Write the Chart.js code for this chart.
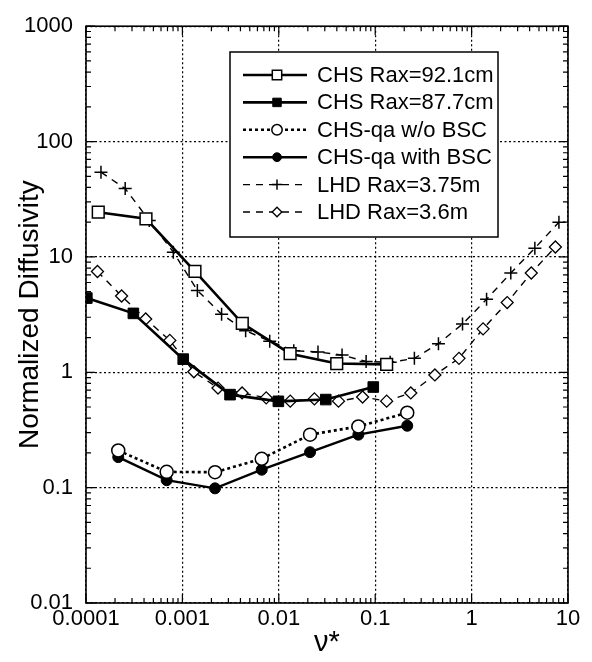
<!DOCTYPE html>
<html lang="en">
<head>
    <meta charset="UTF-8">
    <title>Normalized Diffusivity vs collisionality</title>
    <script src="https://cdn.jsdelivr.net/npm/chart.js"></script>
    <style>
        body {
            margin: 0;
            padding: 0;
            background-color: #ffffff;
        }
        #chartBox {
            width: 592px;
            height: 662px;
        }
    </style>
</head>
<body>
    <div id="chartBox">
        <canvas id="diffChart" width="592" height="662"></canvas>
    </div>
    <script>
        // Tick labels (decades only)
        const xTicks = [0.0001, 0.001, 0.01, 0.1, 1, 10];
        const xTickLabels = ['0.0001', '0.001', '0.01', '0.1', '1', '10'];
        const yTicks = [0.01, 0.1, 1, 10, 100, 1000];
        const yTickLabels = ['0.01', '0.1', '1', '10', '100', '1000'];

        // CHS Rax=92.1cm (open squares)
        const chs921X = [1.34e-4, 4.19e-4, 1.35e-3, 4.18e-3, 0.0131, 0.0399, 0.1315];
        const chs921Y = [24.4, 21.4, 7.48, 2.66, 1.45, 1.19, 1.17];

        // CHS Rax=87.7cm (filled squares)
        const chs877X = [1.02e-4, 3.1e-4, 1.02e-3, 3.12e-3, 0.0099, 0.0307, 0.0955];
        const chs877Y = [4.4, 3.24, 1.30, 0.64, 0.56, 0.58, 0.745];

        // CHS-qa w/o BSC (open circles) and with BSC (filled circles)
        const qaX = [2.16e-4, 6.87e-4, 2.18e-3, 6.65e-3, 0.0211, 0.0669, 0.215];
        const qaNoBscY = [0.21, 0.137, 0.136, 0.178, 0.288, 0.339, 0.446];
        const qaBscY = [0.184, 0.116, 0.0986, 0.143, 0.203, 0.288, 0.344];

        // LHD Rax=3.75m (plus)
        const lhd375X = [1.43e-4, 2.55e-4, 4.53e-4, 8.05e-4, 1.43e-3, 2.55e-3, 4.53e-3, 8.05e-3,
                         0.0143, 0.0255, 0.0453, 0.0805, 0.143, 0.255, 0.453, 0.805, 1.43, 2.55, 4.53, 8.05];
        const lhd375Y = [54.3, 39.1, 20.7, 11.0, 5.12, 3.19, 2.29, 1.86, 1.54, 1.50,
                         1.41, 1.24, 1.22, 1.32, 1.77, 2.62, 4.29, 7.26, 11.9, 20.0];

        // LHD Rax=3.6m (diamonds)
        const lhd36X = [1.315e-4, 2.34e-4, 4.16e-4, 7.40e-4, 1.315e-3, 2.34e-3, 4.16e-3, 7.40e-3,
                        0.01315, 0.0234, 0.0416, 0.0740, 0.1315, 0.234, 0.416, 0.740, 1.315, 2.34, 4.16, 7.40];
        const lhd36Y = [7.48, 4.58, 2.90, 1.89, 1.01, 0.73, 0.662, 0.60, 0.562, 0.588,
                        0.562, 0.611, 0.562, 0.662, 0.948, 1.32, 2.38, 4.02, 7.26, 12.2];

        const fontFamily = '"Liberation Sans", Arial, Helvetica, sans-serif';

        function pairs(xs, ys) {
            return xs.map((x, i) => ({ x: x, y: ys[i] }));
        }

        const datasets = [
            {
                label: 'CHS Rax=92.1cm',
                data: pairs(chs921X, chs921Y),
                borderColor: '#000', borderWidth: 2.6,
                pointStyle: 'rect', pointRadius: 8.3,
                pointBackgroundColor: '#fff', pointBorderColor: '#000', pointBorderWidth: 1.5
            },
            {
                label: 'CHS Rax=87.7cm',
                data: pairs(chs877X, chs877Y),
                borderColor: '#000', borderWidth: 2.6,
                pointStyle: 'rect', pointRadius: 7.5,
                pointBackgroundColor: '#000', pointBorderColor: '#000', pointBorderWidth: 1
            },
            {
                label: 'CHS-qa w/o BSC',
                data: pairs(qaX, qaNoBscY),
                borderColor: '#000', borderWidth: 2.6, borderDash: [3, 3],
                pointStyle: 'circle', pointRadius: 6.5,
                pointBackgroundColor: '#fff', pointBorderColor: '#000', pointBorderWidth: 1.5
            },
            {
                label: 'CHS-qa with BSC',
                data: pairs(qaX, qaBscY),
                borderColor: '#000', borderWidth: 2.4,
                pointStyle: 'circle', pointRadius: 5.5,
                pointBackgroundColor: '#000', pointBorderColor: '#000', pointBorderWidth: 1
            },
            {
                label: 'LHD Rax=3.75m',
                data: pairs(lhd375X, lhd375Y),
                borderColor: '#000', borderWidth: 1.4, borderDash: [7, 6],
                pointStyle: 'cross', pointRadius: 6.5,
                pointBackgroundColor: '#fff', pointBorderColor: '#000', pointBorderWidth: 1.5
            },
            {
                label: 'LHD Rax=3.6m',
                data: pairs(lhd36X, lhd36Y),
                borderColor: '#000', borderWidth: 1.4, borderDash: [7, 6],
                pointStyle: 'rectRot', pointRadius: 6,
                pointBackgroundColor: '#fff', pointBorderColor: '#000', pointBorderWidth: 1.3
            }
        ];

        // frame, inward ticks and the boxed legend
        const decorPlugin = {
            id: 'decor',
            afterDraw(chart) {
                const ctx = chart.ctx;
                const area = chart.chartArea;
                const xs = chart.scales.x;
                const ys = chart.scales.y;
                ctx.save();
                ctx.strokeStyle = '#000';
                ctx.lineWidth = 1.2;
                ctx.setLineDash([]);
                ctx.beginPath();
                for (let e = -4; e <= 1; e++) {
                    for (let k = 1; k <= 9; k++) {
                        const v = k * Math.pow(10, e);
                        if (v > 10.0001) continue;
                        const px = xs.getPixelForValue(v);
                        const len = k === 1 ? 9 : 5;
                        ctx.moveTo(px, area.bottom); ctx.lineTo(px, area.bottom - len);
                        ctx.moveTo(px, area.top); ctx.lineTo(px, area.top + len);
                    }
                }
                for (let e = -2; e <= 3; e++) {
                    for (let k = 1; k <= 9; k++) {
                        const v = k * Math.pow(10, e);
                        if (v > 1000.01) continue;
                        const py = ys.getPixelForValue(v);
                        const len = k === 1 ? 9 : 5;
                        ctx.moveTo(area.left, py); ctx.lineTo(area.left + len, py);
                        ctx.moveTo(area.right, py); ctx.lineTo(area.right - len, py);
                    }
                }
                ctx.stroke();
                ctx.lineWidth = 1.6;
                ctx.strokeRect(area.left, area.top, area.right - area.left, area.bottom - area.top);

                // legend box
                const box = { left: 230, top: 52, right: 498, bottom: 237 };
                ctx.fillStyle = '#fff';
                ctx.fillRect(box.left, box.top, box.right - box.left, box.bottom - box.top);
                ctx.lineWidth = 1.5;
                ctx.strokeRect(box.left, box.top, box.right - box.left, box.bottom - box.top);
                const rowStart = 75, rowStep = 27.4;
                ctx.font = '22px ' + fontFamily;
                ctx.textBaseline = 'middle';
                ctx.textAlign = 'left';
                chart.data.datasets.forEach((ds, i) => {
                    const y = rowStart + i * rowStep;
                    ctx.strokeStyle = '#000';
                    ctx.lineWidth = ds.borderWidth;
                    ctx.setLineDash(ds.borderDash || []);
                    ctx.beginPath();
                    ctx.moveTo(243, y);
                    ctx.lineTo(307, y);
                    ctx.stroke();
                    ctx.setLineDash([]);
                    ctx.fillStyle = ds.pointBackgroundColor;
                    ctx.lineWidth = ds.pointBorderWidth;
                    Chart.helpers.drawPoint(ctx, {
                        pointStyle: ds.pointStyle,
                        radius: ds.pointRadius * 0.8,
                        rotation: 0,
                        borderWidth: ds.pointBorderWidth
                    }, 277, y);
                    ctx.fillStyle = '#000';
                    ctx.fillText(ds.label, 317, y + 1);
                });
                ctx.restore();
            }
        };

        Chart.defaults.color = '#000';
        Chart.defaults.font.family = fontFamily;

        const chart = new Chart(document.getElementById('diffChart').getContext('2d'), {
            type: 'line',
            data: { datasets: datasets },
            options: {
                responsive: false,
                animation: false,
                devicePixelRatio: 1,
                layout: { padding: { top: 18, right: 24, bottom: 0, left: 0 } },
                plugins: {
                    legend: { display: false },
                    tooltip: { enabled: false }
                },
                elements: { line: { tension: 0, fill: false } },
                scales: {
                    x: {
                        type: 'logarithmic',
                        min: 0.0001,
                        max: 10,
                        afterFit: (scale) => { scale.height = 59; },
                        afterBuildTicks: (scale) => { scale.ticks = xTicks.map(v => ({ value: v })); },
                        ticks: {
                            autoSkip: false,
                            maxRotation: 0,
                            padding: 3,
                            font: { size: 22 },
                            callback: (value, index) => xTickLabels[index]
                        },
                        grid: { color: '#000', lineWidth: 1.2, drawTicks: false },
                        border: { display: false, dash: [2, 2.5] },
                        title: {
                            display: true,
                            text: 'ν*',
                            font: { size: 29 },
                            padding: { top: 0, bottom: 2 }
                        }
                    },
                    y: {
                        type: 'logarithmic',
                        min: 0.01,
                        max: 1000,
                        afterFit: (scale) => { scale.width = 86; },
                        afterBuildTicks: (scale) => { scale.ticks = yTicks.map(v => ({ value: v })); },
                        ticks: {
                            autoSkip: false,
                            padding: 13,
                            font: { size: 22 },
                            callback: (value, index) => yTickLabels[index]
                        },
                        grid: { color: '#000', lineWidth: 1.2, drawTicks: false },
                        border: { display: false, dash: [2, 2.5] },
                        title: {
                            display: true,
                            text: 'Normalized Diffusivity',
                            font: { size: 28 },
                            padding: { top: 13, bottom: 0 }
                        }
                    }
                }
            },
            plugins: [decorPlugin]
        });
    </script>
</body>
</html>
